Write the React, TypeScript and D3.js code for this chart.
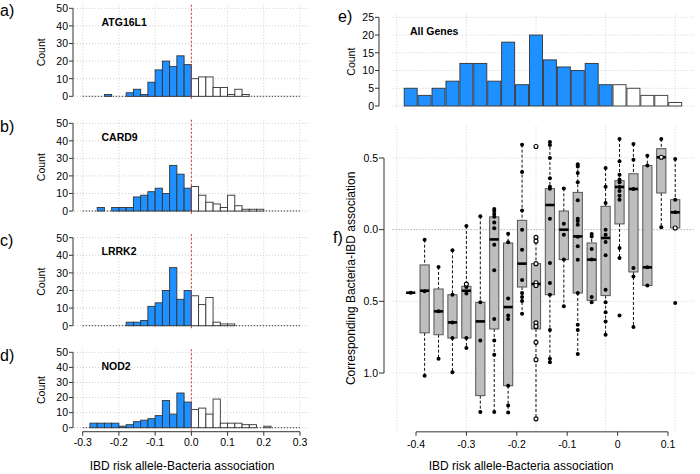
import React from 'react';
import * as d3 from 'd3';

// ---- panels a-d : histograms, bins of 0.02 from -0.3 to 0.3 ----
const binStarts = d3.range(30).map((i) => -0.3 + i * 0.02);
const genes = ['ATG16L1', 'CARD9', 'LRRK2', 'NOD2'];
const panelTags = ['a)', 'b)', 'c)', 'd)'];
const countsATG16L1 = [0, 0, 0, 1, 0, 0, 2, 4, 1, 8, 15, 20, 17, 23, 18, 10, 11, 11, 5, 5, 1, 4, 1, 0, 0, 0, 0, 0, 0, 0];
const countsCARD9 = [0, 0, 2, 0, 2, 2, 2, 8, 9, 11, 13, 10, 26, 21, 13, 14, 9, 5, 4, 2, 9, 3, 1, 1, 1, 0, 0, 0, 0, 0];
const countsLRRK2 = [0, 0, 0, 0, 0, 0, 2, 2, 3, 11, 13, 20, 33, 15, 20, 17, 12, 16, 2, 1, 1, 0, 0, 0, 0, 0, 0, 0, 0, 0];
const countsNOD2 = [0, 3, 3, 3, 3, 1, 2, 4, 5, 6, 8, 18, 9, 23, 17, 12, 13, 9, 19, 3, 3, 3, 2, 2, 0, 1, 0, 0, 0, 0];
const histCounts = [countsATG16L1, countsCARD9, countsLRRK2, countsNOD2];
const histTicks = [-0.3, -0.2, -0.1, 0, 0.1, 0.2, 0.3];
const histTickLabels = ['-0.3', '-0.2', '-0.1', '0.0', '0.1', '0.2', '0.3'];
const countTicks = [0, 10, 20, 30, 40, 50];

// ---- panel e : all genes ----
const allCounts = [5, 3, 5, 7, 12, 12, 7, 18, 6, 20, 13, 11, 10, 12, 6, 6, 5, 3, 3, 1];
const allNegative = [1, 1, 1, 1, 1, 1, 1, 1, 1, 1, 1, 1, 1, 1, 1, 0, 0, 0, 0, 0];
const allTicks = [0, 5, 10, 15, 20, 25];

// ---- panel f : boxplots per bin ----
const boxLo = [-0.44, -1.02, -0.9, -0.995, -0.826, -1.272, -1.272, -1.275, -0.58, -1.32, -0.925, -0.535, -0.867, -0.507, -0.733, -0.198, -0.679, -0.389, 0.016, 0.012];
const boxQ1 = [-0.44, -0.72, -0.733, -0.756, -0.756, -1.158, -0.693, -1.089, -0.4, -0.693, -0.454, -0.209, -0.442, -0.493, -0.46, 0.04, -0.295, -0.389, 0.256, 0.012];
const boxMed = [-0.44, -0.426, -0.57, -0.647, -0.426, -0.64, -0.068, -0.54, -0.237, -0.379, 0.172, 0.0, -0.047, -0.209, -0.058, 0.298, 0.284, -0.263, 0.505, 0.121];
const boxQ3 = [-0.44, -0.246, -0.414, -0.454, -0.395, -0.507, 0.089, -0.093, 0.065, -0.237, 0.286, 0.13, 0.26, -0.093, 0.163, 0.342, 0.39, 0.447, 0.565, 0.209];
const boxHi = [-0.44, -0.07, -0.26, -0.144, 0.026, 0.093, 0.144, -0.028, 0.593, -0.054, 0.612, 0.288, 0.456, -0.03, 0.43, 0.633, 0.598, 0.516, 0.633, 0.493];
const boxDots = [
  [-0.44],
  [-0.07, -0.43, -1.02],
  [-0.26, -0.57, -0.9],
  [-0.144, -0.454, -0.647, -0.756, -0.995],
  [0.026, -0.4, -0.445, -0.756, -0.826],
  [0.093, -0.507, -0.773, -1.272],
  [0.144, 0.13, 0.11, 0.09, 0.05, 0.01, -0.105, -0.284, -0.623, -0.773, -0.872, -1.272],
  [-0.028, -0.088, -0.48, -0.598, -0.623, -1.089, -1.226, -1.275],
  [0.593, 0.403, 0.133, 0.0, -0.14, -0.351, -0.442, -0.47, -0.498, -0.586],
  [],
  [0.612, 0.59, 0.5, 0.358, 0.3, 0.286, 0.077, -0.233, -0.372, -0.454, -0.7, -0.9, -0.925],
  [0.288, 0.042, -0.035, -0.209, -0.535],
  [0.456, 0.44, 0.395, 0.33, 0.205, 0.077, 0.06, 0.035, -0.05, -0.116, -0.21, -0.442, -0.663, -0.7, -0.867],
  [-0.03, -0.047, -0.135, -0.209, -0.47, -0.507],
  [0.43, 0.3, 0.186, 0.0, -0.035, -0.086, -0.179, -0.419, -0.507, -0.577, -0.64, -0.733],
  [0.633, 0.477, 0.384, 0.35, 0.33, 0.298, 0.27, 0.237, 0.209, -0.128, -0.198, -0.598],
  [0.598, 0.488, 0.284, -0.267, -0.326, -0.679],
  [0.516, 0.447, -0.263, -0.389],
  [0.633, 0.016],
  [0.493, 0.209, 0.121, -0.512],
];
const boxRings = [
  [], [], [], [], [-0.38], [], [], [], [],
  [0.58, -0.054, -0.08, -0.237, -0.37, -0.39, -0.65, -0.675, -0.786, -0.907, -1.32],
  [], [], [], [], [], [], [], [], [0.505], [0.012],
];
const assocTicks = [-0.4, -0.3, -0.2, -0.1, 0, 0.1];
const assocTickLabels = ['-0.4', '-0.3', '-0.2', '-0.1', '0', '0.1'];
const corrTicks = [0.5, 0, -0.5, -1.0];
const corrTickLabels = ['0.5', '0.0', '0.5', '1.0'];

const font = "'Liberation Sans', Arial, sans-serif";
const blue = '#1E90FF';
const gridCol = '#cfcfcf';

const hx = d3.scaleLinear().domain([-0.3, 0.3]).range([82.7, 300]);
const zeroY = [96.3, 211, 325.7, 427.7];
const fiftyY = [8.3, 123.3, 237.7, 352.3];
const tagY = [16, 132, 246, 361];

function HistPanel({ i }: { i: number }) {
  const y = d3.scaleLinear().domain([0, 50]).range([zeroY[i], fiftyY[i]]);
  const top = y(52), bottom = y(-2);
  const left = hx(-0.324), right = hx(0.324);
  const counts = histCounts[i];
  return (
    <g>
      {histTicks.map((t) => (
        <line key={'v' + t} x1={hx(t)} x2={hx(t)} y1={top} y2={bottom} stroke={gridCol} strokeDasharray="1,2" />
      ))}
      {countTicks.map((t) => (
        <line key={'h' + t} x1={left} x2={right} y1={y(t)} y2={y(t)} stroke={gridCol} strokeDasharray="1,2" />
      ))}
      <line x1={hx(-0.3)} x2={hx(0.3)} y1={y(0)} y2={y(0)} stroke="#444" strokeDasharray="1.5,1.5" />
      {binStarts.map((s, k) => counts[k] > 0 && (
        <rect key={k} x={hx(s)} width={hx(s + 0.02) - hx(s)} y={y(counts[k])} height={y(0) - y(counts[k])}
          fill={s < -1e-9 ? blue : '#fff'} stroke="#333" strokeWidth={0.9} />
      ))}
      <line x1={hx(0)} x2={hx(0)} y1={top} y2={bottom} stroke="#cc3333" strokeDasharray="2,2" />
      <line x1={left - 1} x2={left - 1} y1={y(0)} y2={y(50)} stroke="#333" />
      {countTicks.map((t) => (
        <g key={'t' + t}>
          <line x1={left - 5} x2={left - 1} y1={y(t)} y2={y(t)} stroke="#333" />
          <text x={left - 6} y={y(t) + 3.8} fontSize={10.5} textAnchor="end" fontFamily={font}>{t}</text>
        </g>
      ))}
      <text transform={`translate(45,${(top + bottom) / 2}) rotate(-90)`} fontSize={10.5} textAnchor="middle" fontFamily={font}>Count</text>
      <text x={101.5} y={fiftyY[i] + 17.5} fontSize={10.5} fontWeight="bold" fontFamily={font}>{genes[i]}</text>
      <text x={0} y={tagY[i]} fontSize={16} fontFamily={font}>{panelTags[i]}</text>
      {i === 3 && (
        <g>
          <line x1={hx(-0.3)} x2={hx(0.3)} y1={bottom + 1} y2={bottom + 1} stroke="#333" />
          {histTicks.map((t, k) => (
            <g key={'x' + t}>
              <line x1={hx(t)} x2={hx(t)} y1={bottom + 1} y2={bottom + 5} stroke="#333" />
              <text x={hx(t)} y={bottom + 15} fontSize={10.5} textAnchor="middle" fontFamily={font}>{histTickLabels[k]}</text>
            </g>
          ))}
          <text x={182} y={470} fontSize={12} textAnchor="middle" fontFamily={font}>IBD risk allele-Bacteria association</text>
        </g>
      )}
    </g>
  );
}

const xIdx = d3.scaleLinear().domain([1, 20]).range([410.7, 675.2]);
const gridIdx = [0, 5, 10, 15, 20];
const plotLeft = xIdx(-0.3), plotRight = xIdx(21.3);

function AllGenesPanel() {
  const y = d3.scaleLinear().domain([0, 25]).range([106, 17.3]);
  const top = y(26), bottom = y(-1);
  const axisX = 379;
  return (
    <g>
      {gridIdx.map((g) => (
        <line key={'v' + g} x1={xIdx(g)} x2={xIdx(g)} y1={top} y2={bottom} stroke={gridCol} strokeDasharray="1,2" />
      ))}
      {allTicks.map((t) => (
        <line key={'h' + t} x1={plotLeft} x2={plotRight} y1={y(t)} y2={y(t)} stroke={gridCol} strokeDasharray="1,2" />
      ))}
      {allCounts.map((c, k) => (
        <rect key={k} x={xIdx(k + 1) - 6.5} width={13} y={y(c)} height={y(0) - y(c)}
          fill={allNegative[k] ? blue : '#fff'} stroke="#333" strokeWidth={0.9} />
      ))}
      <line x1={axisX} x2={axisX} y1={y(0)} y2={y(25)} stroke="#333" />
      {allTicks.map((t) => (
        <g key={'t' + t}>
          <line x1={axisX - 4} x2={axisX} y1={y(t)} y2={y(t)} stroke="#333" />
          <text x={axisX - 5} y={y(t) + 3.8} fontSize={10.5} textAnchor="end" fontFamily={font}>{t}</text>
        </g>
      ))}
      <text transform={`translate(355,${(top + bottom) / 2}) rotate(-90)`} fontSize={10.5} textAnchor="middle" fontFamily={font}>Count</text>
      <text x={410} y={35} fontSize={10.5} fontWeight="bold" fontFamily={font}>All Genes</text>
      <text x={338} y={22} fontSize={16} fontFamily={font}>e)</text>
    </g>
  );
}

function BoxPanel() {
  const y = d3.scaleLinear().domain([-1, 0.5]).range([373, 158]);
  const xv = d3.scaleLinear().domain([-0.4, 0.1]).range([416, 668]);
  const top = y(0.72), bottom = y(-1.4);
  const axisX = 384;
  const bw = 4.6;
  return (
    <g>
      {gridIdx.map((g) => (
        <line key={'v' + g} x1={xIdx(g)} x2={xIdx(g)} y1={top} y2={bottom} stroke={gridCol} strokeDasharray="1,2" />
      ))}
      {corrTicks.map((t) => (
        <line key={'h' + t} x1={plotLeft} x2={plotRight} y1={y(t)} y2={y(t)}
          stroke={t === 0 ? '#888' : gridCol} strokeDasharray="1,2" />
      ))}
      {boxMed.map((m, k) => {
        const cx = xIdx(k + 1);
        return (
          <g key={k}>
            {boxHi[k] > boxQ3[k] && <line x1={cx} x2={cx} y1={y(boxHi[k])} y2={y(boxQ3[k])} stroke="#111" strokeDasharray="3,2" />}
            {boxLo[k] < boxQ1[k] && <line x1={cx} x2={cx} y1={y(boxQ1[k])} y2={y(boxLo[k])} stroke="#111" strokeDasharray="3,2" />}
            {boxQ3[k] > boxQ1[k] && (
              <rect x={cx - bw} width={bw * 2} y={y(boxQ3[k])} height={y(boxQ1[k]) - y(boxQ3[k])} fill="#bebebe" stroke="#555" />
            )}
            <line x1={cx - bw} x2={cx + bw} y1={y(m)} y2={y(m)} stroke="#000" strokeWidth={2.6} />
            {boxDots[k].map((v, j) => <circle key={'d' + j} cx={cx} cy={y(v)} r={2} fill="#000" />)}
            {boxRings[k].map((v, j) => <circle key={'r' + j} cx={cx} cy={y(v)} r={2} fill="#fff" stroke="#000" strokeWidth={1.1} />)}
          </g>
        );
      })}
      <line x1={axisX} x2={axisX} y1={y(0.5)} y2={y(-1)} stroke="#333" />
      {corrTicks.map((t, k) => (
        <g key={'t' + t}>
          <line x1={axisX - 5} x2={axisX} y1={y(t)} y2={y(t)} stroke="#333" />
          <text x={axisX - 6} y={y(t) + 3.8} fontSize={10.5} textAnchor="end" fontFamily={font}>{corrTickLabels[k]}</text>
        </g>
      ))}
      <line x1={xv(-0.4)} x2={xv(0.1)} y1={bottom + 1.5} y2={bottom + 1.5} stroke="#333" />
      {assocTicks.map((t, k) => (
        <g key={'x' + t}>
          <line x1={xv(t)} x2={xv(t)} y1={bottom + 1.5} y2={bottom + 5.5} stroke="#333" />
          <text x={xv(t)} y={bottom + 18} fontSize={10.5} textAnchor="middle" fontFamily={font}>{assocTickLabels[k]}</text>
        </g>
      ))}
      <text x={521} y={470} fontSize={12} textAnchor="middle" fontFamily={font}>IBD risk allele-Bacteria association</text>
      <text transform={`translate(355,${(top + bottom) / 2}) rotate(-90)`} fontSize={12} textAnchor="middle" fontFamily={font}>Corresponding Bacteria-IBD association</text>
      <text x={333} y={243} fontSize={16} fontFamily={font}>f)</text>
    </g>
  );
}

export default function App() {
  return (
    <div style={{ position: 'absolute', left: 0, top: 0 }}>
      <svg width={700} height={474} style={{ display: 'block', background: '#fff' }}>
        {[0, 1, 2, 3].map((i) => <HistPanel key={i} i={i} />)}
        <AllGenesPanel />
        <BoxPanel />
      </svg>
    </div>
  );
}
